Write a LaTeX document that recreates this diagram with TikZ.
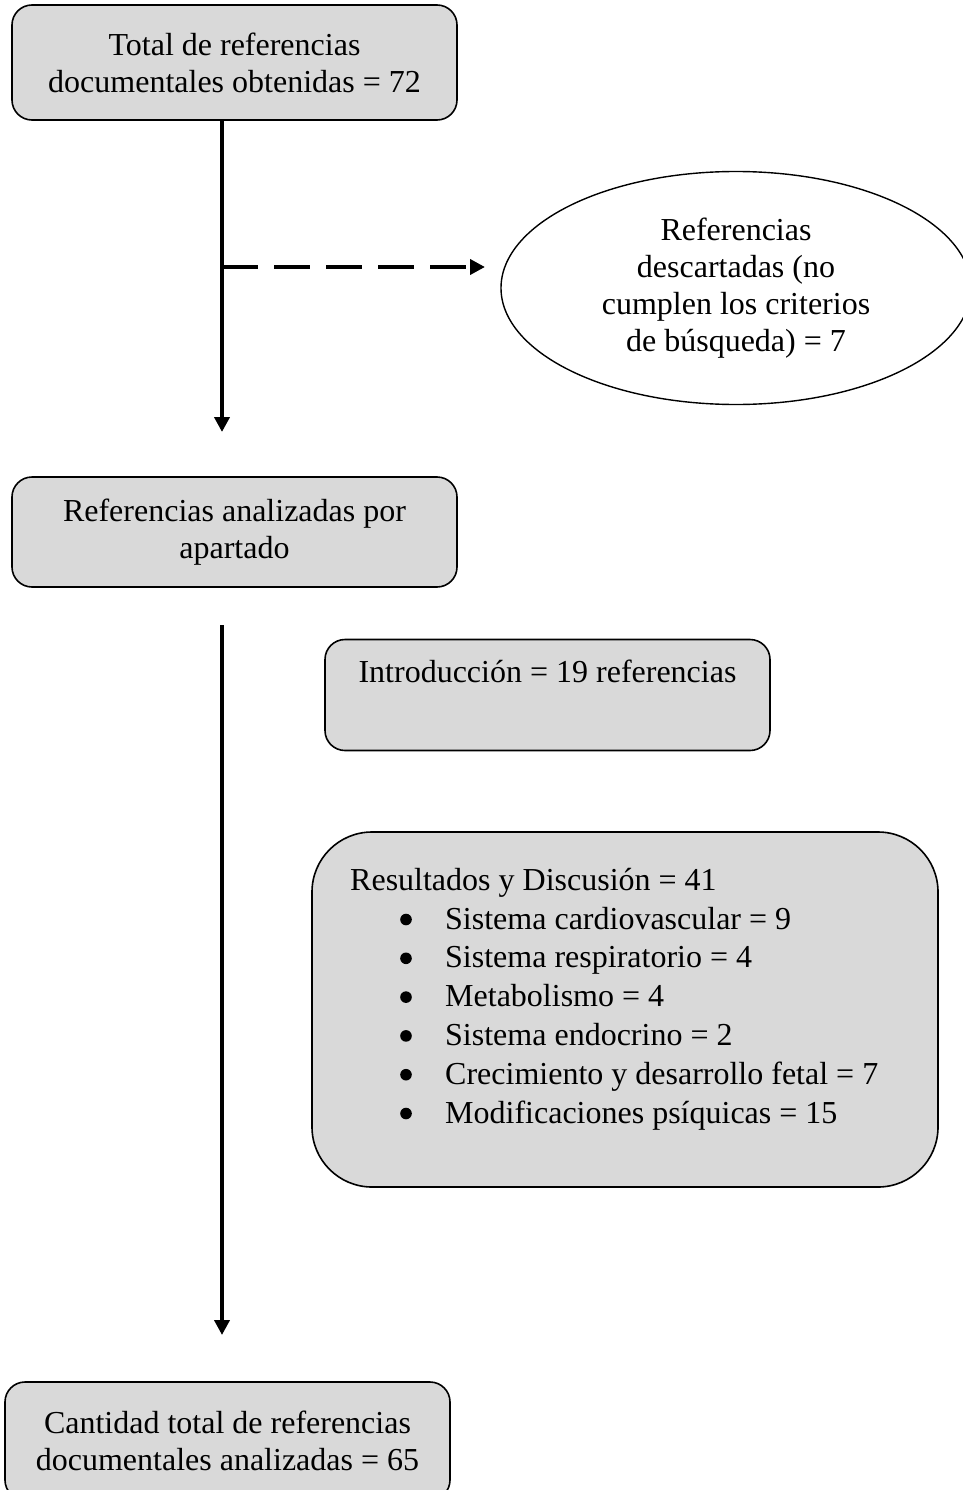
\documentclass[tikz,border=0pt]{standalone}
\usepackage{fontspec}
\setmainfont{Liberation Serif}
\usetikzlibrary{arrows.meta,shapes.geometric}
\definecolor{boxgray}{RGB}{217,217,217}
\newcommand\myindent{\hspace*{95pt}}
\begin{document}
\begin{tikzpicture}[x=1pt,y=-1pt,
  every node/.style={font=\fontsize{32}{37}\selectfont},
  gbox/.style={draw=black,line width=1.6pt,fill=boxgray,rounded corners=20pt,align=center,inner sep=0pt},
  mainarrow/.style={line width=4pt,-{Triangle[length=15pt,width=15pt]}},
  dasharrow/.style={line width=4pt,dash pattern=on 36pt off 16pt,-{Triangle[length=15pt,width=15pt]}}]
\useasboundingbox (0,0) rectangle (963,1490);
% boxes
\node[gbox,minimum width=445pt,minimum height=115pt] (total) at (234.5,62.5)
  {Total de referencias\\documentales obtenidas = 72};
\node[draw=black,line width=1.4pt,ellipse,minimum width=470pt,minimum height=233pt,align=center,inner sep=0pt] (desc) at (736,288)
  {Referencias\\descartadas (no\\cumplen los criterios\\de búsqueda) = 7};
\node[gbox,minimum width=445pt,minimum height=110pt] (anal) at (234.5,532)
  {Referencias analizadas por\\apartado};
\node[gbox,minimum width=445pt,minimum height=111pt] (intro) at (547.5,695)
  {Introducción = 19 referencias\\\strut};
\node[gbox,rounded corners=60pt,minimum width=626pt,minimum height=355pt] (res) at (625,1009.5) {};
\node[anchor=base west,align=left,inner sep=0pt,font=\fontsize{32}{38.8}\selectfont] (restext) at (350,1123)
  {Resultados y Discusión = 41\\
   \myindent Sistema cardiovascular = 9\\
   \myindent Sistema respiratorio = 4\\
   \myindent Metabolismo = 4\\
   \myindent Sistema endocrino = 2\\
   \myindent Crecimiento y desarrollo fetal = 7\\
   \myindent Modificaciones psíquicas = 15};
\foreach \k in {0,...,5}
  \fill (406,{919.5+38.8*\k}) circle (5.8pt);
\node[gbox,minimum width=445pt,minimum height=118pt] (cant) at (227.5,1441)
  {Cantidad total de referencias\\documentales analizadas = 65};
% connectors
\coordinate (a1s) at (222,120);
\coordinate (a1e) at (222,432);
\coordinate (dss) at (222,267);
\coordinate (dse) at (485,267);
\coordinate (a2s) at (222,625);
\coordinate (a2e) at (222,1335);
\draw[mainarrow] (a1s) -- (a1e);
\draw[dasharrow] (dss) -- (dse);
\draw[mainarrow] (a2s) -- (a2e);
\end{tikzpicture}
\end{document}
